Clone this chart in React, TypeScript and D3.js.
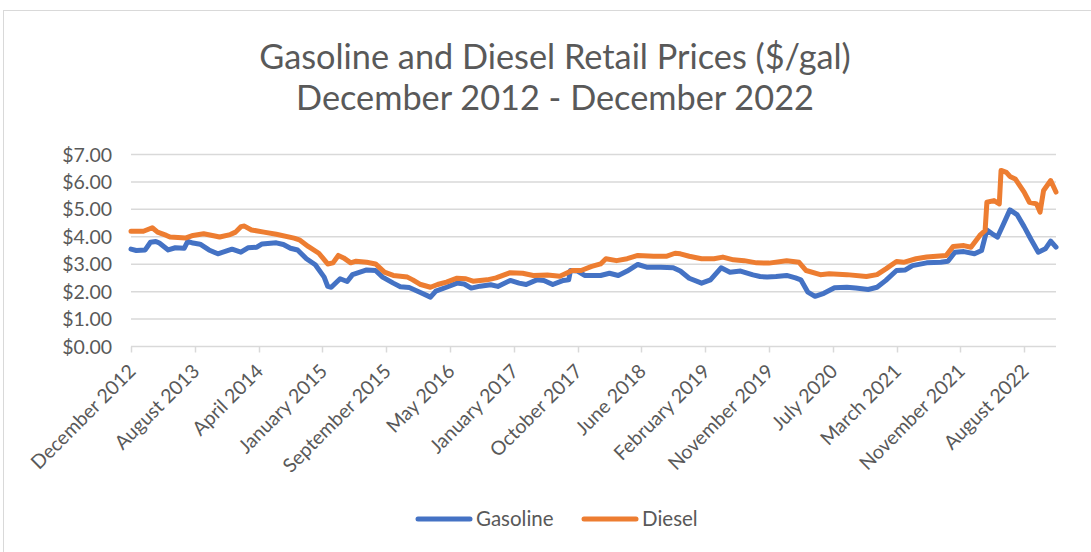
import React from "react";
import * as d3 from "d3";

// Week index = weeks since the week of December 10, 2012 (weekly retail prices)
const gasolineWeeks = [0, 3, 8, 11, 14, 16, 21, 25, 30, 32, 35, 39, 44, 49, 57, 62, 66, 71, 74, 82, 86, 90, 94, 99, 104, 109, 111, 113, 118, 122, 125, 133, 138, 142, 148, 152, 157, 163, 169, 172, 178, 184, 188, 192, 197, 203, 207, 214, 219, 223, 229, 233, 238, 244, 247, 248, 252, 256, 265, 270, 275, 280, 286, 291, 299, 306, 310, 315, 322, 327, 333, 338, 344, 351, 355, 359, 364, 370, 375, 378, 382, 386, 391, 397, 404, 409, 416, 421, 426, 432, 437, 441, 449, 457, 461, 465, 470, 476, 480, 483, 486, 489, 492, 496, 500, 504, 508, 512, 516, 519, 522];
const gasolineValues = [3.55, 3.5, 3.52, 3.8, 3.83, 3.77, 3.52, 3.6, 3.58, 3.83, 3.77, 3.73, 3.52, 3.38, 3.55, 3.44, 3.6, 3.62, 3.74, 3.78, 3.72, 3.58, 3.52, 3.2, 2.98, 2.53, 2.19, 2.16, 2.47, 2.37, 2.62, 2.79, 2.77, 2.53, 2.31, 2.18, 2.15, 1.98, 1.8, 2.02, 2.16, 2.31, 2.28, 2.13, 2.2, 2.25, 2.19, 2.41, 2.31, 2.26, 2.43, 2.41, 2.26, 2.41, 2.43, 2.77, 2.75, 2.59, 2.59, 2.67, 2.59, 2.75, 2.99, 2.89, 2.89, 2.87, 2.75, 2.49, 2.31, 2.43, 2.87, 2.71, 2.75, 2.61, 2.55, 2.53, 2.55, 2.59, 2.5, 2.43, 1.98, 1.83, 1.94, 2.14, 2.16, 2.13, 2.08, 2.16, 2.41, 2.77, 2.79, 2.95, 3.05, 3.07, 3.11, 3.44, 3.46, 3.38, 3.5, 4.25, 4.11, 3.99, 4.41, 4.98, 4.81, 4.37, 3.89, 3.44, 3.56, 3.84, 3.62];

const dieselWeeks = [0, 7, 12, 15, 20, 22, 31, 35, 41, 48, 50, 56, 59, 62, 64, 68, 75, 82, 92, 95, 100, 106, 111, 114, 117, 120, 124, 127, 133, 138, 143, 148, 156, 159, 163, 169, 173, 178, 184, 189, 193, 201, 206, 214, 221, 227, 235, 242, 249, 254, 260, 265, 268, 274, 280, 286, 295, 302, 307, 310, 315, 322, 329, 334, 340, 346, 353, 360, 370, 377, 381, 389, 394, 404, 415, 421, 426, 432, 436, 443, 449, 460, 464, 470, 474, 479, 482, 483, 487, 490, 491, 494, 496, 499, 504, 507, 511, 513, 515, 519, 522];
const dieselValues = [4.2, 4.2, 4.33, 4.17, 4.05, 3.99, 3.96, 4.05, 4.11, 4.02, 3.99, 4.08, 4.17, 4.37, 4.39, 4.25, 4.17, 4.09, 3.95, 3.89, 3.65, 3.4, 3.01, 3.05, 3.32, 3.23, 3.05, 3.11, 3.07, 3.01, 2.71, 2.59, 2.53, 2.43, 2.27, 2.16, 2.26, 2.35, 2.49, 2.47, 2.38, 2.43, 2.5, 2.69, 2.67, 2.59, 2.61, 2.56, 2.77, 2.77, 2.92, 3.01, 3.2, 3.13, 3.2, 3.32, 3.29, 3.29, 3.4, 3.38, 3.29, 3.2, 3.2, 3.26, 3.16, 3.13, 3.05, 3.04, 3.13, 3.07, 2.77, 2.62, 2.65, 2.62, 2.55, 2.62, 2.83, 3.1, 3.07, 3.2, 3.26, 3.32, 3.65, 3.68, 3.62, 4.05, 4.23, 5.26, 5.32, 5.2, 6.42, 6.35, 6.2, 6.11, 5.63, 5.26, 5.2, 4.9, 5.69, 6.05, 5.63];

const tickWeeks = [0, 36, 72, 108, 144, 180, 216, 252, 288, 324, 360, 396, 432, 468, 504];
const tickLabels = ["December 2012", "August 2013", "April 2014", "January 2015", "September 2015", "May 2016", "January 2017", "October 2017", "June 2018", "February 2019", "November 2019", "July 2020", "March 2021", "November 2021", "August 2022"];
const yTicks = [0, 1, 2, 3, 4, 5, 6, 7];

const titleLines = ["Gasoline and Diesel Retail Prices ($/gal)", "December 2012 - December 2022"];
const seriesNames = ["Gasoline", "Diesel"];
const seriesColors = ["#4472C4", "#ED7D31"];

const W = 1091;
const H = 552;
const FONT = "Lato, 'Open Sans', sans-serif";
const TEXT = "#595959";

export default function App() {
  const x = d3.scaleLinear().domain([0, 522]).range([131, 1056]);
  const y = d3.scaleLinear().domain([0, 7]).range([346.5, 154.5]);

  const line = d3
    .line<[number, number]>()
    .x((d) => x(d[0]))
    .y((d) => y(d[1]));

  const gas: [number, number][] = gasolineWeeks.map((w, i) => [w, gasolineValues[i]]);
  const dsl: [number, number][] = dieselWeeks.map((w, i) => [w, dieselValues[i]]);

  return (
    <svg
      width={W}
      height={H}
      style={{ position: "absolute", left: 0, top: 0, background: "#fff" }}
      fontFamily={FONT}
    >
      <rect x={0} y={0} width={W} height={H} fill="#fff" />
      <rect x={3.5} y={10.5} width={W + 20} height={H + 20} fill="none" stroke="#d9d9d9" strokeWidth={1} />

      {titleLines.map((t, i) => (
        <text key={t} x={555} y={69 + i * 41} textAnchor="middle" fontSize={34.3} fontWeight={400} fill={TEXT}>
          {t}
        </text>
      ))}

      {yTicks.map((v) => (
        <g key={v}>
          {v > 0 && <line x1={131} x2={1056} y1={y(v)} y2={y(v)} stroke="#d9d9d9" strokeWidth={1.5} />}
          <text x={112} y={y(v)} dy="0.36em" textAnchor="end" fontSize={19.5} fill={TEXT}>
            {"$" + v.toFixed(2)}
          </text>
        </g>
      ))}

      <line x1={131} x2={1056} y1={y(0)} y2={y(0)} stroke="#d9d9d9" strokeWidth={1.5} />
      {tickWeeks.map((w, i) => (
        <g key={w}>
          <line x1={Math.round(x(w)) + 0.5} x2={Math.round(x(w)) + 0.5} y1={y(0)} y2={y(0) + 6} stroke="#d9d9d9" strokeWidth={1.5} />
          <text
            transform={`translate(${x(w) + 6},${y(0) + 26}) rotate(-45)`}
            textAnchor="end"
            fontSize={19.5}
            fill={TEXT}
          >
            {tickLabels[i]}
          </text>
        </g>
      ))}

      <path d={line(gas) || ""} fill="none" stroke={seriesColors[0]} strokeWidth={5} strokeLinejoin="round" strokeLinecap="round" />
      <path d={line(dsl) || ""} fill="none" stroke={seriesColors[1]} strokeWidth={5} strokeLinejoin="round" strokeLinecap="round" />

      {seriesNames.map((n, i) => {
        const lx = i === 0 ? 418 : 584;
        return (
          <g key={n}>
            <line x1={lx} x2={lx + 52} y1={519} y2={519} stroke={seriesColors[i]} strokeWidth={5} strokeLinecap="round" />
            <text x={lx + 58} y={519} dy="0.36em" fontSize={20.5} fill={TEXT}>
              {n}
            </text>
          </g>
        );
      })}
    </svg>
  );
}
